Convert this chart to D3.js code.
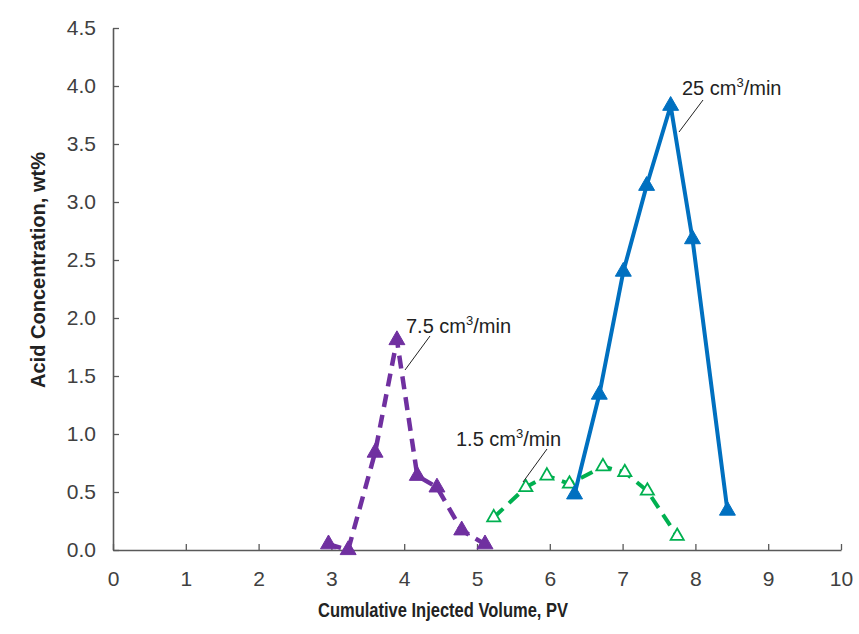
<!DOCTYPE html>
<html><head><meta charset="utf-8">
<script src="https://cdn.jsdelivr.net/npm/d3@7"></script>
<style>body{margin:0;background:#fff;} svg{display:block;}</style>
</head><body>
<svg id="chart" width="859" height="634"></svg>
<script>
// ---- data ----
const xTicks = [0,1,2,3,4,5,6,7,8,9,10];
const yTicks = [0,0.5,1,1.5,2,2.5,3,3.5,4,4.5];
const s75x = [2.96,3.23,3.60,3.90,4.18,4.45,4.79,5.11];
const s75y = [0.05,0.00,0.84,1.81,0.64,0.54,0.17,0.05];
const s15x = [5.23,5.67,5.96,6.27,6.73,7.03,7.34,7.75];
const s15y = [0.28,0.54,0.64,0.57,0.72,0.67,0.51,0.12];
const s25x = [6.34,6.68,7.01,7.33,7.66,7.96,8.44];
const s25y = [0.48,1.34,2.40,3.14,3.83,2.68,0.34];
const seriesNames = ["7.5 cm³/min","1.5 cm³/min","25 cm³/min"];

const svg = d3.select("#chart");
const x = d3.scaleLinear().domain([0,10]).range([113,841]);
const y = d3.scaleLinear().domain([0,4.5]).range([550,28]);
const axisColor = "#595959";
const FONT = "Liberation Sans, Arial, sans-serif";
const NARROW = "Liberation Sans Narrow, Liberation Sans, Arial, sans-serif";

// axes
const gx = svg.append("g").attr("transform",`translate(0,${y(0)})`)
  .call(d3.axisBottom(x).tickValues(xTicks).tickFormat(d3.format("d")).tickSizeInner(-6).tickSizeOuter(0).tickPadding(0));
const gy = svg.append("g").attr("transform",`translate(${x(0)},0)`)
  .call(d3.axisLeft(y).tickValues(yTicks).tickFormat(d3.format(".1f")).tickSizeInner(-6).tickSizeOuter(0).tickPadding(17));
[gx,gy].forEach(g=>{
  g.attr("font-size",null).attr("font-family",null);
  g.select(".domain").attr("stroke",axisColor).attr("stroke-width",1.6);
  g.selectAll(".tick line").attr("stroke",axisColor).attr("stroke-width",1.3);
  g.selectAll(".tick text").attr("fill","#404040").style("font-family",FONT).style("font-size","21px");
});
gx.selectAll(".tick text").attr("y",36).attr("dy",null);

// axis titles
svg.append("text").attr("x",443).attr("y",617).attr("text-anchor","middle")
  .style("font-family",NARROW).attr("font-weight","bold").style("font-size","21px")
  .attr("fill","#222").attr("textLength",250).attr("lengthAdjust","spacingAndGlyphs")
  .text("Cumulative Injected Volume, PV");
svg.append("text").attr("transform","translate(45,270) rotate(-90)").attr("text-anchor","middle")
  .style("font-family",NARROW).attr("font-weight","bold").style("font-size","21px")
  .attr("fill","#222").attr("textLength",236).attr("lengthAdjust","spacingAndGlyphs")
  .text("Acid Concentration, wt%");

const line = d3.line().x(d=>x(d[0])).y(d=>y(d[1]));
const tri = d3.symbol().type(d3.symbolTriangle);

function drawSeries(xs, ys, color, dash, open, width, size){
  const pts = xs.map((v,i)=>[v, ys[i]]);
  svg.append("path").datum(pts).attr("d",line).attr("fill","none")
    .attr("stroke",color).attr("stroke-width",width).attr("stroke-dasharray",dash)
    .attr("stroke-linejoin","round");
  svg.append("g").selectAll("path").data(pts).join("path")
    .attr("transform",d=>`translate(${x(d[0])},${y(d[1])})`)
    .attr("d",tri.size(size)())
    .attr("fill",open ? "#fff" : color)
    .attr("stroke",color).attr("stroke-width",open?1.8:1);
}
drawSeries(s75x, s75y, "#7030A0", "13,8", false, 4.5, 110);
drawSeries(s15x, s15y, "#00B050", "13,8", true, 4, 75);
drawSeries(s25x, s25y, "#0070C0", null, false, 4, 110);

// labels with leader lines
const labels = [
  {name:seriesNames[0], tx:406, ty:333, l:[[430,336],[405,370]]},
  {name:seriesNames[1], tx:456, ty:446, l:[[547,449],[523,482]]},
  {name:seriesNames[2], tx:682, ty:95,  l:[[703,100],[679,132]]}
];
labels.forEach(o=>{
  const parts = o.name.split("³");
  const t = svg.append("text").attr("x",o.tx).attr("y",o.ty)
    .style("font-family",FONT).style("font-size","20px").attr("fill","#222");
  t.append("tspan").text(parts[0]);
  t.append("tspan").style("font-size","13px").attr("dy",-8).text("3");
  t.append("tspan").attr("dy",8).text(parts[1]);
  svg.append("line").attr("x1",o.l[0][0]).attr("y1",o.l[0][1]).attr("x2",o.l[1][0]).attr("y2",o.l[1][1])
    .attr("stroke","#222").attr("stroke-width",1);
});
</script>
</body></html>
